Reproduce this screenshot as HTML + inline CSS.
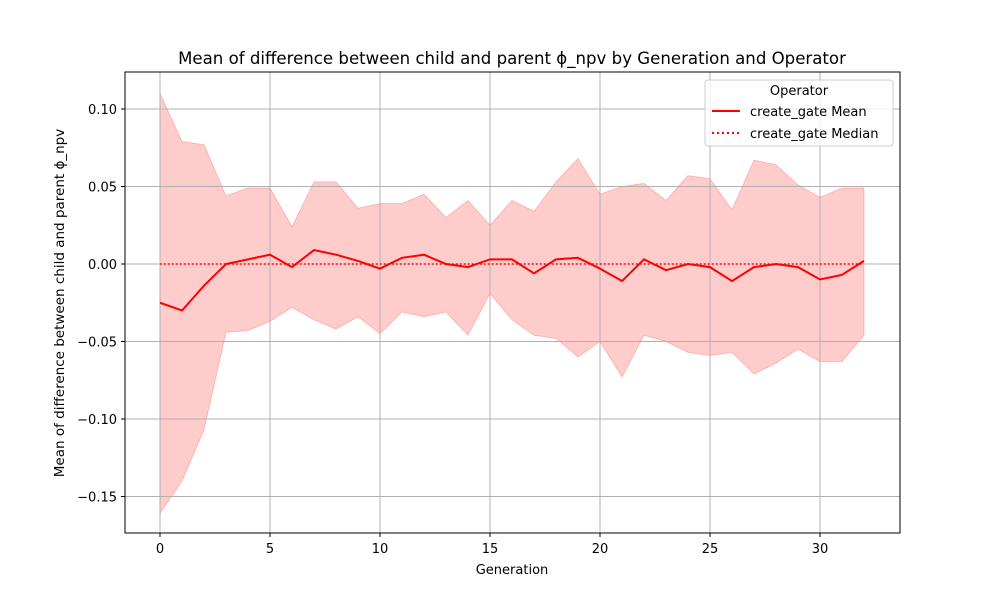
<!DOCTYPE html>
<html><head><meta charset="utf-8"><style>
body{margin:0;background:#fff;font-family:"Liberation Sans","DejaVu Sans",sans-serif;}
</style></head><body>
<svg id="chart" width="1000" height="600" xmlns="http://www.w3.org/2000/svg" font-family="DejaVu Sans, Liberation Sans, sans-serif">
<rect width="1000" height="600" fill="#fff"/>
<g id="series"></g>
<g id="grid"></g>
<g id="series2"></g>
<rect x="125" y="72" width="775" height="461" fill="none" stroke="#000" stroke-width="1"/>
<g id="ticks" font-size="13"></g>
<text x="512" y="64" text-anchor="middle" font-size="16.6">Mean of difference between child and parent ϕ_npv by Generation and Operator</text>
<text x="512" y="574" text-anchor="middle" font-size="13">Generation</text>
<text transform="translate(64,303) rotate(-90)" text-anchor="middle" font-size="13.5">Mean of difference between child and parent ϕ_npv</text>
<g>
<rect x="705" y="80" width="188" height="66" rx="3" fill="#fff" fill-opacity="0.8" stroke="#ccc"/>
<text x="799" y="95" text-anchor="middle" font-size="13">Operator</text>
<line x1="712" y1="111" x2="740" y2="111" stroke="red" stroke-width="2"/>
<text x="750" y="116" font-size="13">create_gate Mean</text>
<line x1="712" y1="133" x2="740" y2="133" stroke="red" stroke-width="2" stroke-dasharray="2,3"/>
<text x="750" y="138" font-size="13">create_gate Median</text>
</g>
</svg>
<script>
const generations = Array.from({length:33},(_,i)=>i);
const meanValues = [-0.025,-0.030,-0.014,0,0.003,0.006,-0.002,0.009,0.006,0.002,-0.003,0.004,0.006,0,-0.002,0.003,0.003,-0.006,0.003,0.004,-0.003,-0.011,0.003,-0.004,0,-0.002,-0.011,-0.002,0,-0.002,-0.010,-0.007,0.002];
const medianValues = new Array(33).fill(0);
const upperValues = [0.110,0.079,0.077,0.044,0.049,0.049,0.024,0.053,0.053,0.036,0.039,0.039,0.045,0.030,0.041,0.025,0.041,0.034,0.053,0.068,0.045,0.050,0.052,0.041,0.057,0.055,0.035,0.067,0.064,0.051,0.043,0.049,0.049];
const lowerValues = [-0.161,-0.140,-0.107,-0.044,-0.043,-0.037,-0.028,-0.036,-0.042,-0.034,-0.045,-0.031,-0.034,-0.031,-0.046,-0.019,-0.036,-0.046,-0.048,-0.060,-0.050,-0.073,-0.046,-0.050,-0.057,-0.059,-0.057,-0.071,-0.064,-0.055,-0.063,-0.063,-0.046];
const xTicks = [0,5,10,15,20,25,30];
const yTicks = [0.10,0.05,0.00,-0.05,-0.10,-0.15];

const NS="http://www.w3.org/2000/svg";
const X=g=>160+g*22;
const Y=v=>264-v*1550;
function mk(tag,attrs,parent){const e=document.createElementNS(NS,tag);for(const k in attrs)e.setAttribute(k,attrs[k]);parent.appendChild(e);return e;}
const grid=document.getElementById('grid'),ticks=document.getElementById('ticks'),series=document.getElementById('series'),series2=document.getElementById('series2');
xTicks.forEach(t=>{
  const l=mk('line',{x1:X(t),x2:X(t),y1:72,y2:533,stroke:'#b0b0b0','stroke-width':1},grid);
  
  
  mk('line',{x1:X(t),x2:X(t),y1:533,y2:537,stroke:'#000'},ticks);
  const tx=mk('text',{x:X(t),y:553,'text-anchor':'middle'},ticks);
  tx.textContent=t;
  
  
});
yTicks.forEach(t=>{
  const l=mk('line',{x1:125,x2:900,y1:Y(t),y2:Y(t),stroke:'#b0b0b0','stroke-width':1},grid);
  
  
  mk('line',{x1:121,x2:125,y1:Y(t),y2:Y(t),stroke:'#000'},ticks);
  const tx=mk('text',{x:117,y:Y(t)+5,'text-anchor':'end'},ticks);
  tx.textContent=t.toFixed(2).replace('-','\u2212');
  
  
});
let d=generations.map((g,i)=>(i?'L':'M')+X(g)+','+Y(upperValues[i])).join('');
for(let i=generations.length-1;i>=0;i--)d+='L'+X(generations[i])+','+Y(lowerValues[i]);
const band=mk('path',{d:d+'Z',fill:'red','fill-opacity':0.2,stroke:'red','stroke-opacity':0.2},series);


const med=mk('polyline',{points:generations.map((g,i)=>X(g)+','+Y(medianValues[i])).join(' '),fill:'none',stroke:'red','stroke-width':1.5,'stroke-dasharray':'1.5,2.5'},series2);


const mean=mk('polyline',{points:generations.map((g,i)=>X(g)+','+Y(meanValues[i])).join(' '),fill:'none',stroke:'red','stroke-width':2},series2);


</script>
</body></html>
